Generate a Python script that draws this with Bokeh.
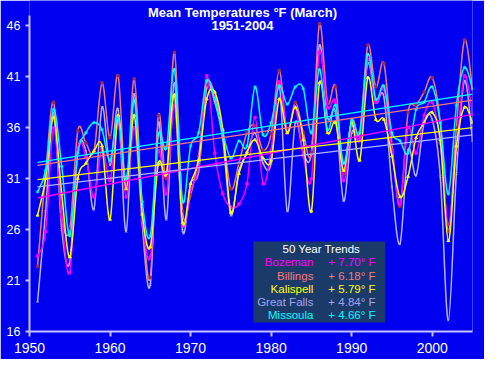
from bokeh.plotting import figure
from bokeh.models import Label, BoxAnnotation, FixedTicker
from bokeh.embed import file_html
from bokeh.resources import INLINE

# ---------------- data ----------------
years = list(range(1951, 2006))

bozeman = [23.4, 25.8, 36.0, 27.2, 21.8, 33.8, 33.2, 29.2, 34.0, 30.8,
           36.5, 29.2, 36.0, 26.9, 23.3, 33.7, 29.5, 38.2, 26.5, 29.9,
           32.2, 41.1, 33.5, 29.5, 28.2, 28.5, 30.5, 37.0, 30.5, 33.8,
           40.5, 35.5, 38.0, 33.2, 31.0, 43.4, 38.0, 38.5, 30.8, 36.2,
           34.8, 42.7, 38.5, 39.8, 33.8, 28.5, 36.0, 33.5, 37.2, 38.5,
           34.5, 26.5, 33.8, 41.1, 37.3]
billings = [22.4, 31.5, 38.5, 27.5, 26.1, 35.7, 34.5, 33.7, 40.4, 35.0,
            41.1, 29.9, 40.8, 28.0, 21.3, 37.2, 31.0, 43.4, 27.8, 29.4,
            33.2, 40.2, 39.3, 35.5, 30.0, 32.5, 35.5, 36.2, 33.8, 35.4,
            41.6, 35.5, 38.5, 35.5, 33.6, 46.2, 38.5, 40.0, 31.5, 36.8,
            35.5, 44.1, 40.0, 42.3, 34.4, 28.3, 37.5, 38.2, 39.5, 40.9,
            36.5, 25.8, 36.0, 44.6, 39.8]
kalispell = [27.4, 31.0, 37.0, 29.5, 23.3, 31.0, 32.5, 33.7, 34.2, 27.0,
             37.2, 30.0, 37.2, 27.5, 24.3, 32.5, 31.5, 39.2, 26.7, 30.5,
             32.8, 38.8, 39.5, 35.8, 27.7, 31.5, 33.6, 34.8, 33.0, 32.8,
             38.8, 35.5, 38.0, 34.8, 27.8, 40.4, 35.5, 36.5, 31.8, 36.5,
             32.8, 40.9, 36.8, 36.8, 33.2, 29.2, 31.2, 35.0, 36.5, 37.5,
             34.8, 24.9, 34.2, 38.0, 36.5]
great_falls = [18.9, 27.8, 37.5, 26.0, 22.8, 33.8, 33.7, 28.0, 38.0, 32.3,
               37.8, 25.8, 39.3, 26.5, 20.6, 36.5, 27.0, 40.4, 25.9, 30.5,
               31.7, 39.9, 38.5, 34.8, 27.4, 31.8, 33.5, 35.5, 32.5, 32.5,
               40.3, 27.8, 36.5, 33.5, 33.5, 44.1, 37.0, 37.5, 28.8, 35.5,
               35.0, 42.3, 38.5, 39.0, 30.2, 24.6, 33.8, 31.3, 36.5, 36.8,
               31.2, 17.1, 31.5, 40.6, 34.7]
missoula = [29.7, 31.8, 37.8, 32.2, 25.4, 33.5, 35.5, 36.5, 35.8, 32.8,
            37.0, 30.9, 38.7, 28.7, 25.4, 35.3, 34.0, 41.7, 28.8, 34.2,
            35.5, 40.6, 38.8, 35.5, 33.0, 34.7, 34.2, 40.0, 35.3, 36.5,
            40.1, 38.3, 40.0, 39.8, 35.5, 41.7, 35.8, 38.2, 32.5, 36.7,
            35.5, 43.2, 38.8, 40.1, 35.5, 34.7, 33.5, 37.8, 38.5, 40.0,
            36.5, 29.5, 38.2, 41.9, 39.8]

stations = ["Bozeman", "Billings", "Kalispell", "Great Falls", "Missoula"]
trend_labels = ["+ 7.70° F", "+ 6.18° F", "+ 5.79° F", "+ 4.84° F", "+ 4.66° F"]
trend_start = [29.1, 32.3, 30.9, 30.2, 32.6]   # trend-line value at first year
trend_end = [37.3, 38.7, 36.0, 35.3, 39.3]     # trend-line value at last year

y_ticks = [16, 21, 26, 31, 36, 41, 46]
x_ticks = [1950, 1960, 1970, 1980, 1990, 2000]

title_line1 = "Mean Temperatures °F (March)"
title_line2 = "1951-2004"
legend_title = "50 Year Trends"

# ---------------- styling ----------------
BG = "#0000F0"
AXIS = "#C4C4FF"
FONT = "Liberation Sans"
series = {
    "Bozeman":     dict(data=bozeman,     line="#FF00FF", mark="#FF00FF", marker="square",   size=2.5, text="#FF00FF"),
    "Billings":    dict(data=billings,    line="#F47A7A", mark="#A0284A", marker="square",   size=2.5, text="#F47A7A"),
    "Kalispell":   dict(data=kalispell,   line="#FFFF00", mark="#FFFF00", marker="triangle", size=3,   text="#FFFF00"),
    "Great Falls": dict(data=great_falls, line="#B4B4FF", mark="#B4B4FF", marker="x",        size=3,   text="#A4A4EE"),
    "Missoula":    dict(data=missoula,    line="#00FFFF", mark="#00FFFF", marker="asterisk", size=3.5, text="#00FFFF"),
}
draw_order = ["Great Falls", "Billings", "Bozeman", "Kalispell", "Missoula"]

# pixel helpers (for annotation placement only; absolute window pixels)
def yr(px):
    return 1950 + (px - 36.7) / 8.066

def tp(py):
    return 46 - (py - 33.3) / 10.19

p = figure(width=484, height=359, x_range=(1950, 2005), y_range=(16, 48.48),
           output_backend="svg", toolbar_location=None,
           min_border_left=29, min_border_right=12, min_border_top=0, min_border_bottom=28)
p.background_fill_color = BG
p.border_fill_color = BG
p.outline_line_color = None
p.xgrid.visible = False
p.ygrid.visible = False

for ax in (p.xaxis[0], p.yaxis[0]):
    ax.axis_line_color = AXIS
    ax.axis_line_width = 2
    ax.major_tick_line_color = AXIS
    ax.major_tick_line_width = 2
    ax.minor_tick_line_color = None
    ax.major_tick_in = 0
    ax.major_label_text_color = "white"
    ax.major_label_text_font = FONT
p.xaxis.ticker = FixedTicker(ticks=x_ticks)
p.yaxis.ticker = FixedTicker(ticks=y_ticks)
p.xaxis.major_tick_out = 5
p.yaxis.major_tick_out = 4
p.xaxis.major_label_standoff = 6
p.yaxis.major_label_standoff = 5
p.xaxis.major_label_text_font_size = "14px"
p.yaxis.major_label_text_font_size = "12.5px"
p.yaxis.bounds = (16, 47.0)


def smooth_segments(xs, ys):
    n = len(xs)
    out = dict(x0=[], y0=[], x1=[], y1=[], cx0=[], cy0=[], cx1=[], cy1=[])
    for i in range(n - 1):
        a = i - 1 if i > 0 else i
        d = i + 2 if i + 2 < n else i + 1
        out["x0"].append(xs[i]); out["y0"].append(ys[i])
        out["x1"].append(xs[i + 1]); out["y1"].append(ys[i + 1])
        out["cx0"].append(xs[i] + (xs[i + 1] - xs[a]) / 6)
        out["cy0"].append(ys[i] + (ys[i + 1] - ys[a]) / 6)
        out["cx1"].append(xs[i + 1] - (xs[d] - xs[i]) / 6)
        out["cy1"].append(ys[i + 1] - (ys[d] - ys[i]) / 6)
    return out

for name in draw_order:
    s = series[name]
    seg = smooth_segments(years, s["data"])
    p.bezier(line_color=s["line"], line_width=1.5, **seg)
    p.scatter(years, s["data"], marker=s["marker"], size=s["size"],
              line_color=s["mark"], fill_color=s["mark"], line_width=0.8)

# trend lines
for i, name in enumerate(stations):
    s = series[name]
    p.line([years[0], years[-1]], [trend_start[i], trend_end[i]],
           line_color=s["line"], line_width=1.3)

# title
p.add_layout(Label(x=yr(250), y=tp(20), text=title_line1, text_align="center",
                   text_baseline="middle", text_color="white", text_font=FONT,
                   text_font_size="13px", text_font_style="bold"))
p.add_layout(Label(x=yr(250), y=tp(33), text=title_line2, text_align="center",
                   text_baseline="middle", text_color="white", text_font=FONT,
                   text_font_size="13px", text_font_style="bold"))

# legend box
p.add_layout(BoxAnnotation(left=yr(261), right=yr(393), top=tp(249), bottom=tp(330),
                           fill_color="#1A3A6A", fill_alpha=1.0, line_color=None))
p.add_layout(Label(x=yr(329), y=tp(257), text=legend_title, text_align="center",
                   text_baseline="middle", text_color="white", text_font=FONT,
                   text_font_size="11.5px"))
row_y = [270, 283.3, 296.3, 309.3, 322.5]
for i, name in enumerate(stations):
    c = series[name]["text"]
    p.add_layout(Label(x=yr(321), y=tp(row_y[i]), text=name, text_align="right",
                       text_baseline="middle", text_color=c, text_font=FONT,
                       text_font_size="11.5px"))
    p.add_layout(Label(x=yr(336), y=tp(row_y[i]), text=trend_labels[i], text_align="left",
                       text_baseline="middle", text_color=c, text_font=FONT,
                       text_font_size="11.5px"))

open("out.html", "w").write(file_html(p, INLINE))
